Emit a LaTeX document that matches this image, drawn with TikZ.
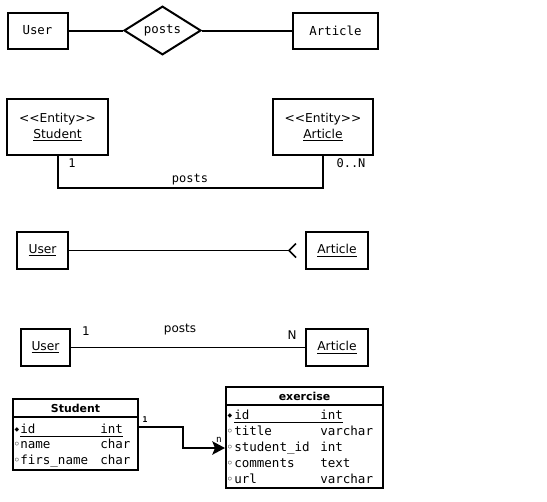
\documentclass[tikz,border=0pt]{standalone}
\usepackage{fontspec}
\setmainfont{DejaVu Sans}
\setsansfont{DejaVu Sans}
\setmonofont{DejaVu Sans Mono}
\usetikzlibrary{shapes.geometric,arrows.meta,calc}
\tikzset{
  box/.style={draw, line width=1.5pt, inner sep=0pt},
  sz/.style 2 args={minimum width=#1*0.75pt, minimum height=#2*0.75pt},
  mono/.style={font=\fontsize{9.3}{11}\selectfont\ttfamily},
  sans/.style={font=\fontsize{9.2}{11}\selectfont\sffamily},
  conn/.style={line width=1.5pt},
  lbl/.style={inner sep=0pt},
  monolbl/.style={lbl, font=\fontsize{9}{11}\selectfont\ttfamily},
  sanslbl/.style={lbl, font=\fontsize{9}{11}\selectfont\sffamily},
  tbox/.style={draw, line width=1.5pt, inner sep=0pt},
  ttitle/.style={lbl, font=\fontsize{8.2}{10}\selectfont\sffamily\bfseries},
  row/.style={lbl, anchor=west, text height=7pt, text depth=2pt, font=\fontsize{9.4}{11}\selectfont\ttfamily},
  pk/.style={lbl, font=\fontsize{4.5}{5}\selectfont\sffamily},
  fk/.style={lbl, font=\fontsize{9}{9}\selectfont\sffamily},
}
\begin{document}
\begin{tikzpicture}[x=0.75pt, y=-0.75pt]
\useasboundingbox (0,0) rectangle (547,501);

% --- row 1: chen notation
\node[box, sz={60}{36}, mono] (u1) at (37.5,30.5) {User};
\node[box, diamond, sz={77}{47}, mono] (d1) at (162.5,30.5) {posts};
\node[box, sz={85}{36}, mono] (a1) at (335.5,30.5) {Article};
\draw[conn] (u1.east) -- (d1.west);
\draw[conn] (d1.east) -- (a1.west);

% --- row 2: UML entities
\node[box, sz={101}{56}, sans, align=center] (s2) at (57.5,127) {<{}<Entity>{}>\\[1pt]\underline{Student}};
\node[box, sz={100}{56}, sans, align=center] (a2) at (323,127) {<{}<Entity>{}>\\[1pt]\underline{Article}};
\draw[conn] (s2.south) -- ++(0,32) -| (a2.south);
\node[monolbl] (l2a) at (72,163) {1};
\node[monolbl] (l2b) at (351,163) {0..N};
\node[monolbl] (l2c) at (190,180) {posts};

% --- row 3: crow's foot
\node[box, sz={51}{37}, sans] (u3) at (42.5,250.5) {\underline{User}};
\node[box, sz={62}{37}, sans] (a3) at (337,250.5) {\underline{Article}};
\coordinate (cf) at ($(a3.west)+(-16,0)$);
\draw[line width=1.3pt] (u3.east) -- (cf);
\draw[line width=1.3pt] ($(cf)+(7,-7)$) -- (cf) -- ($(cf)+(7,7)$);

% --- row 4: cardinality labels
\node[box, sz={49}{37}, sans] (u4) at (45.5,347.5) {\underline{User}};
\node[box, sz={62}{37}, sans] (a4) at (337,347.5) {\underline{Article}};
\draw[line width=1.3pt] (u4.east) -- (a4.west);
\node[sanslbl] (l4a) at (86,331) {1};
\node[sanslbl] (l4b) at (180,330) {posts};
\node[sanslbl] (l4c) at (292,335) {N};

% --- tables
\node[tbox, sz={125}{18}] (stH) at (75.5,408) {};
\node[ttitle] (stT) at (stH.center) {Student};
\node[tbox, sz={125}{53}] (stB) at (75.5,443.5) {};
\node[pk] (sm1) at (17,430) {◆};
\node[fk] (sm2) at (17,445) {◦};
\node[fk] (sm3) at (17,461) {◦};
\node[row] (sn1) at (20,430) {id};
\node[row] (st1) at (100,430) {int};
\node[row] (sn2) at (20,445) {name};
\node[row] (st2) at (100,445) {char};
\node[row] (sn3) at (20,461) {firs\_name};
\node[row] (st3) at (100,461) {char};
\draw[line width=0.6pt] (sn1.south west) -- (st1.south east);

\node[tbox, sz={157}{18}] (exH) at (304.5,396) {};
\node[ttitle] (exT) at (exH.center) {exercise};
\node[tbox, sz={157}{83}] (exB) at (304.5,446.5) {};
\node[pk] (em1) at (230,416) {◆};
\node[fk] (em2) at (230,432) {◦};
\node[fk] (em3) at (230,448) {◦};
\node[fk] (em4) at (230,464) {◦};
\node[fk] (em5) at (230,480) {◦};
\node[row] (en1) at (234,416) {id};
\node[row] (et1) at (320,416) {int};
\node[row] (en2) at (234,432) {title};
\node[row] (et2) at (320,432) {varchar};
\node[row] (en3) at (234,448) {student\_id};
\node[row] (et3) at (320,448) {int};
\node[row] (en4) at (234,464) {comments};
\node[row] (et4) at (320,464) {text};
\node[row] (en5) at (234,480) {url};
\node[row] (et5) at (320,480) {varchar};
\draw[line width=0.6pt] (en1.south west) -- (et1.south east);

\draw[conn, -{Stealth[length=9.5pt, width=10pt, inset=2pt]}] ($(stB.north east)+(0,11)$) -- ++(44,0) |- ($(exB.west)+(0,1.5)$);
\node[lbl, font=\fontsize{6}{7}\selectfont\ttfamily\bfseries] (c1) at (145,420) {1};
\node[lbl, font=\fontsize{7}{8}\selectfont\ttfamily] (c2) at (219,440) {n};
\end{tikzpicture}
\end{document}
